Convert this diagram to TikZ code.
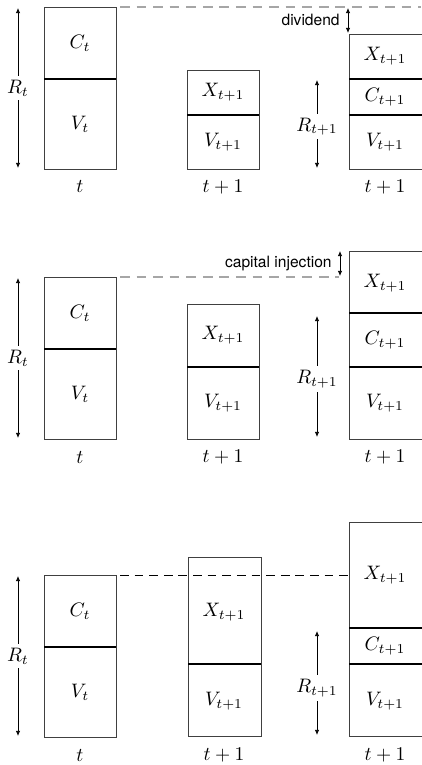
\documentclass[tikz,border=0pt]{standalone}
\usepackage{fontspec}
\newfontfamily\labelfont{TeX Gyre Heros}
\usetikzlibrary{arrows.meta}

\begin{document}
\begin{tikzpicture}[x=0.513pt, y=-0.513pt,
    box/.style={draw=black!75, line width=0.5pt},
    divider/.style={line width=1pt},
    dimarrow/.style={line width=0.4pt, {Latex[length=2.6pt,width=2.2pt]}-{Latex[length=2.6pt,width=2.2pt]}},
    cut/.style={fill=white, inner sep=2pt},
    word/.style={font=\labelfont\footnotesize, inner sep=1pt}]

    \useasboundingbox (0,0) rectangle (421,765);

    % column t, same in all three panels
    \foreach \o/\n in {0/a, 270/b, 568/c} {
        \draw[box] (44, 7+\o) rectangle (116, 169+\o);
        \draw[divider] (44, 79+\o) -- (116, 79+\o);
        \node (C\n) at (80, 43+\o) {$C_t$};
        \node (V\n) at (80, 124+\o) {$V_t$};
        \node (t\n) at (80, 187+\o) {$t$};
        \coordinate (Rtop\n) at (18, 8+\o);
        \coordinate (Rbot\n) at (18, 168+\o);
        \draw[dimarrow] (Rtop\n) -- node[cut] (R\n) {$R_t$} (Rbot\n);
        \coordinate (lvl\n) at (120, 7+\o);
    }

    % panel 1: dividend
    \draw[box] (187, 70) rectangle (259, 169);
    \draw[divider] (187, 115) -- (259, 115);
    \node (Xa1) at (223, 92) {$X_{t+1}$};
    \node (Va1) at (223, 142) {$V_{t+1}$};
    \node (ta1) at (223, 187) {$t+1$};

    \draw[box] (349, 34) rectangle (424, 169);
    \draw[divider] (349, 79) -- (424, 79);
    \draw[divider] (349, 115) -- (424, 115);
    \node (Xa2) at (385, 56) {$X_{t+1}$};
    \node (Ca2) at (385, 97) {$C_{t+1}$};
    \node (Va2) at (385, 142) {$V_{t+1}$};
    \node (ta2) at (385, 187) {$t+1$};

    \coordinate (RRtopa) at (317, 80);
    \coordinate (RRbota) at (317, 168);
    \draw[dimarrow] (RRtopa) -- node[cut, pos=0.53] (RRa) {$R_{t+1}$} (RRbota);

    \coordinate (lvlenda) at (421, 7);
    \draw[gray!70, line width=0.6pt, dash pattern=on 5pt off 3.5pt] (lvla) -- (lvlenda);
    \coordinate (divtop) at (348, 8);
    \coordinate (divbot) at (348, 33);
    \draw[dimarrow] (divtop) -- (divbot);
    \node[word, anchor=east] (dividend) at (342, 20) {dividend};

    % panel 2: capital injection
    \draw[box] (187, 304) rectangle (259, 439);
    \draw[divider] (187, 367) -- (259, 367);
    \node (Xb1) at (223, 335) {$X_{t+1}$};
    \node (Vb1) at (223, 403) {$V_{t+1}$};
    \node (tb1) at (223, 457) {$t+1$};

    \draw[box] (349, 251) rectangle (424, 439);
    \draw[divider] (349, 313) -- (424, 313);
    \draw[divider] (349, 367) -- (424, 367);
    \node (Xb2) at (385, 283) {$X_{t+1}$};
    \node (Cb2) at (385, 340) {$C_{t+1}$};
    \node (Vb2) at (385, 403) {$V_{t+1}$};
    \node (tb2) at (385, 457) {$t+1$};

    \coordinate (RRtopb) at (317, 316);
    \coordinate (RRbotb) at (317, 437);
    \draw[dimarrow] (RRtopb) -- node[cut, pos=0.52] (RRb) {$R_{t+1}$} (RRbotb);

    \coordinate (lvlendb) at (339, 277);
    \draw[gray!70, line width=0.6pt, dash pattern=on 5pt off 3.5pt] (lvlb) -- (lvlendb);
    \coordinate (injtop) at (340, 251);
    \coordinate (injbot) at (340, 276);
    \draw[dimarrow] (injtop) -- (injbot);
    \node[word, anchor=east] (injection) at (334, 264) {capital injection};

    % panel 3
    \draw[box] (188, 557) rectangle (261, 736);
    \draw[divider] (188, 664) -- (261, 664);
    \node (Xc1) at (224, 612) {$X_{t+1}$};
    \node (Vc1) at (224, 701) {$V_{t+1}$};
    \node (tc1) at (224, 755) {$t+1$};

    \draw[box] (349, 522) rectangle (424, 736);
    \draw[divider] (349, 628) -- (424, 628);
    \draw[divider] (349, 664) -- (424, 664);
    \node (Xc2) at (385, 575) {$X_{t+1}$};
    \node (Cc2) at (385, 646) {$C_{t+1}$};
    \node (Vc2) at (385, 701) {$V_{t+1}$};
    \node (tc2) at (385, 755) {$t+1$};

    \coordinate (RRtopc) at (317, 631);
    \coordinate (RRbotc) at (317, 735);
    \draw[dimarrow] (RRtopc) -- node[cut, pos=0.55] (RRc) {$R_{t+1}$} (RRbotc);

    \coordinate (lvlendc) at (349, 575);
    \draw[line width=0.5pt, dash pattern=on 4.5pt off 3pt] (lvlc) -- (lvlendc);

\end{tikzpicture}
\end{document}
